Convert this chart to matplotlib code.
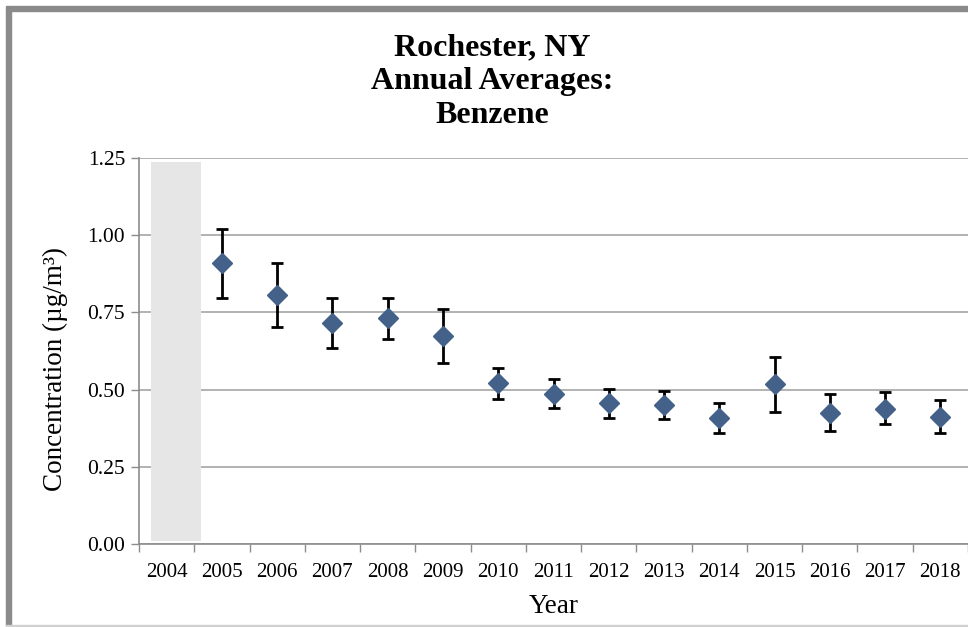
import matplotlib
matplotlib.use("Agg")
import matplotlib.pyplot as plt
from matplotlib.patches import Rectangle
import numpy as np

plt.rcParams['font.family'] = ['Liberation Serif', 'DejaVu Serif']

# data
years = ['2004', '2005', '2006', '2007', '2008', '2009', '2010', '2011',
         '2012', '2013', '2014', '2015', '2016', '2017', '2018']
means = [None, 0.909, 0.806, 0.715, 0.731, 0.672, 0.520, 0.486,
         0.456, 0.450, 0.409, 0.517, 0.425, 0.438, 0.412]
upper = [None, 1.019, 0.910, 0.797, 0.797, 0.760, 0.571, 0.533,
         0.503, 0.497, 0.458, 0.607, 0.486, 0.491, 0.467]
lower = [None, 0.797, 0.704, 0.634, 0.663, 0.587, 0.470, 0.440,
         0.407, 0.404, 0.360, 0.428, 0.365, 0.388, 0.360]
# grey block marking the year with no data
nodata_year = '2004'
nodata_lo, nodata_hi = 0.01, 1.238

W, H = 968, 627
fig = plt.figure(figsize=(W/100, H/100), dpi=100)
ax = fig.add_axes([139/W, 1-544/H, (968-139)/W, (544-158)/H])

x = np.arange(len(years))
idx = [i for i, m in enumerate(means) if m is not None]
m = np.array([means[i] for i in idx])
up = np.array([upper[i] for i in idx]) - m
lo = m - np.array([lower[i] for i in idx])

gi = years.index(nodata_year)
ax.bar(gi + 0.17, nodata_hi - nodata_lo, width=0.92, bottom=nodata_lo,
       color='#e6e6e6', zorder=1)

ax.errorbar(x[idx], m, yerr=[lo, up], fmt='none', ecolor='black',
            elinewidth=2, capsize=4.5, capthick=2, zorder=3)
ax.plot(x[idx], m, linestyle='none', marker='D', markersize=10,
        color='#44618a', markeredgecolor='#44618a', zorder=4)

ax.set_xlim(-0.5, len(years) - 0.5)
ax.set_ylim(0, 1.25)
ax.set_yticks([0, 0.25, 0.5, 0.75, 1.0, 1.25])
ax.set_yticklabels(['%.2f' % v for v in [0, 0.25, 0.5, 0.75, 1.0, 1.25]])
ax.set_xticks(x)
ax.set_xticklabels(years)
ax.set_xticks(np.arange(-0.5, len(years), 1), minor=True)
ax.tick_params(axis='x', which='major', length=0, pad=14, labelsize=15)
ax.tick_params(axis='x', which='minor', length=6, color='#8c8c8c', width=1)
ax.tick_params(axis='y', length=6, color='#8c8c8c', width=1, labelsize=15.5, pad=4)

ax.grid(axis='y', color='#a6a6a6', linewidth=1.2, zorder=0)
ax.set_axisbelow(True)
for side in ['top', 'right']:
    ax.spines[side].set_visible(False)
for side in ['left', 'bottom']:
    ax.spines[side].set_color('#8c8c8c')
    ax.spines[side].set_linewidth(1.2)

ax.set_ylabel('Concentration (\u00b5g/m\u00b3)', fontsize=19.5, labelpad=14)
ax.yaxis.label.set_y(0.453)
ax.set_xlabel('Year', fontsize=19.5, labelpad=8)

fig.text(492/W, 1-82/H, 'Rochester, NY\nAnnual Averages:\nBenzene',
         ha='center', va='center', fontsize=23, fontweight='bold',
         linespacing=1.22)

# outer frame of the original chart image
fig.patches.append(Rectangle((6/W, 1-11/H), 1, 5/H, transform=fig.transFigure,
                             color='#8a8a8a', zorder=0))
fig.patches.append(Rectangle((6/W, 1-626/H), 5/W, 615/H, transform=fig.transFigure,
                             color='#8a8a8a', zorder=0))
fig.patches.append(Rectangle((6/W, 1-627/H), 1, 2/H, transform=fig.transFigure,
                             color='#d0d0d0', zorder=0))

fig.savefig('out.png', dpi=100)
